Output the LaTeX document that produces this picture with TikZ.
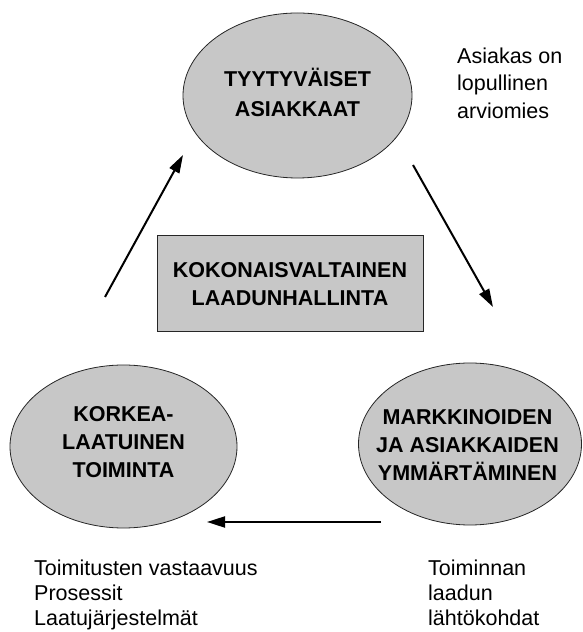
\documentclass[tikz,border=0pt]{standalone}
\usepackage{fontspec}
\setmainfont{Liberation Sans}
\usetikzlibrary{arrows.meta}
\definecolor{blobgray}{gray}{0.78}
\begin{document}
\begin{tikzpicture}[x=1pt,y=1pt,
  blob/.style={draw=black!85,line width=0.8pt,fill=blobgray},
  caps/.style={font=\bfseries\fontsize{21.5}{28}\selectfont,align=center,inner sep=0pt},
  note/.style={font=\fontsize{21.5}{27.5}\selectfont,align=left,inner sep=0pt,anchor=north west},
  flow/.style={line width=2pt,-{Triangle[length=18pt,width=11pt]}}]
\useasboundingbox (0,0) rectangle (583,632);
% ellipses
\coordinate (ctop) at (297.5,536.5);
\coordinate (cleft) at (123.5,185.5);
\coordinate (cright) at (470,188);
\draw[blob] (ctop) ellipse [x radius=114.5, y radius=82.5];
\draw[blob] (cleft) ellipse [x radius=113.5, y radius=81.5];
\draw[blob] (cright) ellipse [x radius=111.5, y radius=81];
\node [caps,font=\bfseries\fontsize{21.5}{30}\selectfont] (tyyt) at (297.5,540) {TYYTYV\"AISET\\ASIAKKAAT};
\node [caps] (korkea) at (123.5,190) {KORKEA-\\LAATUINEN\\TOIMINTA};
\node [caps] (markk) at (467.5,187) {MARKKINOIDEN\\JA ASIAKKAIDEN\\YMM\"ART\"AMINEN};
% box in the middle
\node [caps,draw=black!85,line width=1pt,fill=blobgray,minimum width=266pt,minimum height=96pt] (tqm) at (290,348) {KOKONAISVALTAINEN\\LAADUNHALLINTA};
% notes
\node [note] (arvio) at (457,584.5) {Asiakas on\\lopullinen\\arviomies};
\node [note,font=\fontsize{21.5}{25}\selectfont] (toimit) at (34,72) {Toimitusten vastaavuus\\Prosessit\\Laatuj\"arjestelm\"at};
\node [note,font=\fontsize{21.5}{25}\selectfont] (lahto) at (428,72) {Toiminnan\\laadun\\l\"aht\"okohdat};
% arrows
\coordinate (a1) at (105,335);
\coordinate (b1) at (183,477);
\coordinate (a2) at (413,467);
\coordinate (b2) at (493,325);
\coordinate (a3) at (381,110);
\coordinate (b3) at (207,110);
\draw[flow] (a1) -- (b1);
\draw[flow] (a2) -- (b2);
\draw[flow] (a3) -- (b3);
\end{tikzpicture}
\end{document}
